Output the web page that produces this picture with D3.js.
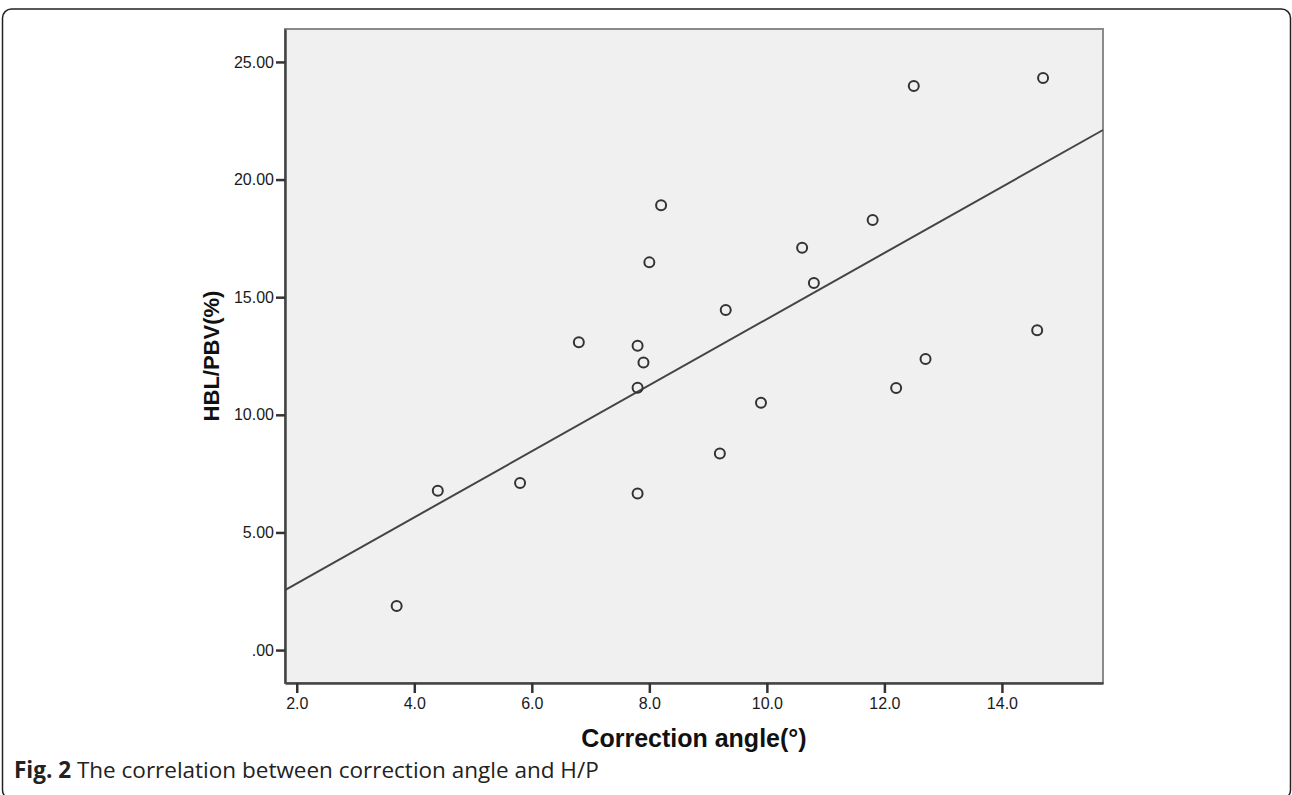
<!DOCTYPE html>
<html>
<head>
<meta charset="utf-8">
<script src="https://cdn.jsdelivr.net/npm/d3@7"></script>
<style>
  body { margin: 0; background: #fff; }
  svg { display: block; }
</style>
</head>
<body>
<div id="chart-area"></div>
<script>
// correction angle (deg) vs HBL/PBV (%)
const angle = [3.7, 4.4, 5.8, 6.8, 7.8, 7.9, 7.8, 7.8, 8.0, 8.2, 9.2, 9.3, 9.9, 10.6, 10.8, 11.8, 12.2, 12.5, 12.7, 14.6, 14.7];
const hblPbv = [1.87, 6.77, 7.1, 13.08, 12.94, 12.22, 11.15, 6.66, 16.48, 18.91, 8.36, 14.46, 10.51, 17.10, 15.60, 18.28, 11.14, 23.98, 12.37, 13.59, 24.32];

// fit line as drawn in the figure
const fitIntercept = 0.02;
const fitSlope = 1.405;

const xTicks = [2, 4, 6, 8, 10, 12, 14];
const xTickLabels = ["2.0", "4.0", "6.0", "8.0", "10.0", "12.0", "14.0"];
const yTicks = [0, 5, 10, 15, 20, 25];
const yTickLabels = [".00", "5.00", "10.00", "15.00", "20.00", "25.00"];

const canvasWidth = 1292;
const canvasHeight = 795;
const plot = {left: 285, top: 29, right: 1103, bottom: 683};
const sans = "'Liberation Sans', Arial, sans-serif";

const svg = d3.select("#chart-area").append("svg")
  .attr("width", canvasWidth).attr("height", canvasHeight);

// outer figure frame
svg.append("rect")
  .attr("x", 2.5).attr("y", 9).attr("width", 1288).attr("height", 790)
  .attr("rx", 9).attr("fill", "none").attr("stroke", "#222").attr("stroke-width", 1.5);

const xScale = d3.scaleLinear().domain([1.8, 15.72]).range([plot.left, plot.right]);
const yScale = d3.scaleLinear().domain([-1.4, 26.4]).range([plot.bottom, plot.top]);

svg.append("rect")
  .attr("x", plot.left).attr("y", plot.top)
  .attr("width", plot.right - plot.left).attr("height", plot.bottom - plot.top)
  .attr("fill", "#f0f0f0").attr("stroke", "#8a8a8a").attr("stroke-width", 2);

const xAxis = d3.axisBottom(xScale).tickValues(xTicks)
  .tickFormat((d, i) => xTickLabels[i]).tickSize(10).tickSizeOuter(0);
const yAxis = d3.axisLeft(yScale).tickValues(yTicks)
  .tickFormat((d, i) => yTickLabels[i]).tickSize(9).tickSizeOuter(0);

const gx = svg.append("g").attr("transform", `translate(0, ${plot.bottom})`).call(xAxis);
const gy = svg.append("g").attr("transform", `translate(${plot.left}, 0)`).call(yAxis);

[gx, gy].forEach(g => {
  g.attr("font-family", sans).attr("font-size", 16);
  g.select(".domain").attr("stroke", "#444").attr("stroke-width", 2.5);
  g.selectAll(".tick line").attr("stroke", "#333").attr("stroke-width", 2.5);
  g.selectAll(".tick text").attr("fill", "#1a1a1a");
});
gx.selectAll(".tick text").attr("dy", "0.95em").attr("y", 11);
gy.selectAll(".tick text").attr("x", -11);

const xd = xScale.domain();
svg.append("line")
  .attr("x1", xScale(xd[0])).attr("y1", yScale(fitIntercept + fitSlope * xd[0]))
  .attr("x2", xScale(xd[1])).attr("y2", yScale(fitIntercept + fitSlope * xd[1]))
  .attr("stroke", "#444").attr("stroke-width", 2);

svg.append("g").selectAll("circle")
  .data(angle)
  .enter()
  .append("circle")
  .attr("cx", d => xScale(d))
  .attr("cy", (d, i) => yScale(hblPbv[i]))
  .attr("r", 5)
  .attr("fill", "none")
  .attr("stroke", "#333")
  .attr("stroke-width", 2);

svg.append("text")
  .attr("x", (plot.left + plot.right) / 2).attr("y", 747)
  .attr("text-anchor", "middle")
  .attr("font-family", sans)
  .attr("font-weight", "bold").attr("font-size", "25px").attr("fill", "#111")
  .text("Correction angle(°)");

svg.append("text")
  .attr("transform", `translate(219, ${(plot.top + plot.bottom) / 2}) rotate(-90)`)
  .attr("text-anchor", "middle")
  .attr("font-family", sans)
  .attr("font-weight", "bold").attr("font-size", "22px").attr("fill", "#111")
  .text("HBL/PBV(%)");

const caption = svg.append("text")
  .attr("x", 14).attr("y", 778)
  .attr("font-family", "'Open Sans', sans-serif").attr("font-size", "22.5px").attr("fill", "#222");
caption.append("tspan").attr("font-weight", "bold").text("Fig. 2");
caption.append("tspan").text(" The correlation between correction angle and H/P");
</script>
</body>
</html>
